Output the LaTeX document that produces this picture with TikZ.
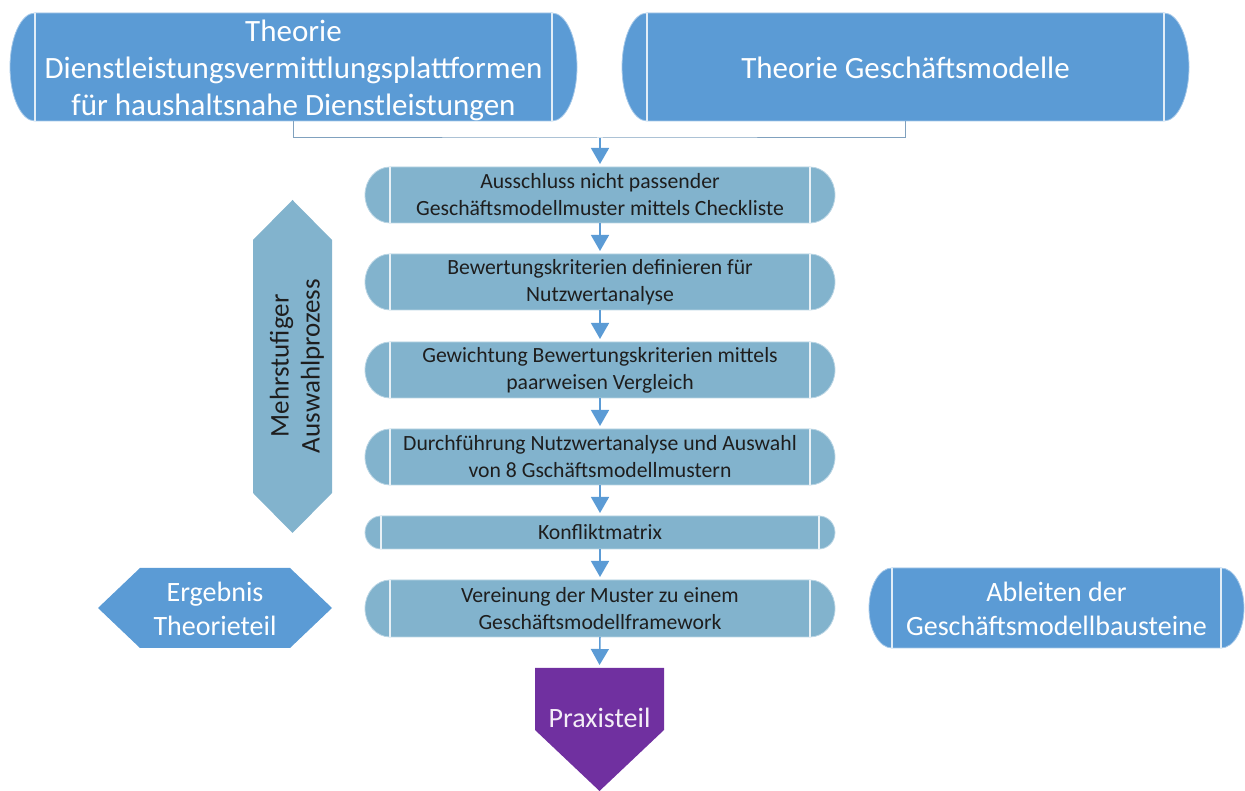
\documentclass[tikz,border=0pt]{standalone}
\usepackage{fontspec}
\setmainfont{Carlito}
\usetikzlibrary{arrows.meta,calc}

\definecolor{topblue}{HTML}{5B9BD5}
\definecolor{midblue}{HTML}{82B3CD}
\definecolor{purp}{HTML}{7030A0}
\definecolor{ink}{HTML}{1E1E1E}

\tikzset{
  boxtext/.style={inner sep=0pt, align=center},
  toptext/.style={boxtext, text=white, font=\fontsize{31}{37}\selectfont},
  midtext/.style={boxtext, text=ink, font=\fontsize{21.7}{27}\selectfont},
  sidetext/.style={boxtext, text=white, font=\fontsize{28}{33.5}\selectfont},
  frame/.style={inner sep=0pt, outer sep=0pt},
  flow/.style={draw=topblue, line width=1.5pt, -{Triangle[width=18pt,length=16pt]}, shorten >=3pt},
  feed/.style={draw=topblue!60!gray!85!white, line width=1pt},
}

% rectangle with elliptic end caps and a thin bar at each cap
% #1 fill, #2 text style, #3 name, #4 centre, #5 inner width, #6 height,
% #7 cap width, #8 text, #9 vertical offset of the text
\newcommand{\capbox}[9]{%
  \fill[#1, draw=white!45!#1, line width=0.8pt] ($(#4)+(-#5/2,#6/2)$) -- ++(#5,0)
     arc[start angle=90, end angle=-90, x radius=#7, y radius=#6/2] -- ++(-#5,0)
     arc[start angle=270, end angle=90, x radius=#7, y radius=#6/2] -- cycle;
  \node[frame, minimum width=#5, minimum height=#6] (#3) at (#4) {};
  \draw[white!82!#1, line width=1.2pt] (#3.north west) -- (#3.south west)
                                        (#3.north east) -- (#3.south east);
  \node[#2] (#3txt) at ($(#3.center)+(0,#9)$) {#8};
}

\begin{document}
\begin{tikzpicture}[x=1pt, y=1pt]
\useasboundingbox (0,0) rectangle (1245,791);

% theory inputs
\capbox{topblue}{toptext}{tl}{293.5,724}{517}{108}{25}{Theorie\\Dienstleistungsvermittlungsplattformen\\für haushaltsnahe Dienstleistungen}{-3}
\capbox{topblue}{toptext}{tr}{905.5,724}{517}{108}{25}{Theorie Geschäftsmodelle}{-1}

% selection steps
\capbox{midblue}{midtext}{b1}{600,596}{420}{56}{25}{Ausschluss nicht passender\\Geschäftsmodellmuster mittels Checkliste}{0}
\capbox{midblue}{midtext}{b2}{600,509}{420}{56}{25}{Bewertungskriterien definieren für\\Nutzwertanalyse}{0}
\capbox{midblue}{midtext}{b3}{600,421}{420}{56}{25}{Gewichtung Bewertungskriterien mittels\\paarweisen Vergleich}{0}
\capbox{midblue}{midtext}{b4}{600,334}{420}{56}{25}{Durchführung Nutzwertanalyse und Auswahl\\von 8 Gschäftsmodellmustern}{0}
\capbox{midblue}{midtext}{b5}{600,258.5}{438}{33}{16}{Konfliktmatrix}{0}
\capbox{midblue}{midtext}{b6}{600,182.5}{420}{57}{25}{Vereinung der Muster zu einem\\Geschäftsmodellframework}{0}

% side annotations
\fill[midblue] (292.5,591) -- (332,551) -- (332,298) -- (292.5,258) -- (253,298) -- (253,551) -- cycle;
\node[midtext, rotate=90, font=\fontsize{27}{31}\selectfont] (mehr) at (297,425) {Mehrstufiger\\Auswahlprozess};

\fill[topblue] (98,183) -- (140,223) -- (290,223) -- (332,183) -- (290,143) -- (140,143) -- cycle;
\node[sidetext] (erg) at (215,182) {Ergebnis\\Theorieteil};

\capbox{topblue}{sidetext}{abl}{1056.5,183}{329}{80}{23}{Ableiten der\\Geschäftsmodellbausteine}{-1}

% practice part
\fill[purp] (535,123) -- (664,123) -- (664,61) -- (599.5,0) -- (535,61) -- cycle;
\node[frame, minimum width=129, minimum height=100] (prax) at (599.5,73) {};
\node[sidetext, text=white!92!purp] (praxtxt) at (prax.center) {Praxisteil};

% connectors
\coordinate (j) at (600,653);
\draw[feed] (tl.south) |- (j) -| (tr.south);
\draw[flow] (j) -- (b1.north);
\draw[flow] (b1.south) -- (b2.north);
\draw[flow] (b2.south) -- (b3.north);
\draw[flow] (b3.south) -- (b4.north);
\draw[flow] (b4.south) -- (b5.north);
\draw[flow] (b5.south) -- (b6.north);
\draw[flow] (b6.south) -- (prax.north);
\end{tikzpicture}
\end{document}
